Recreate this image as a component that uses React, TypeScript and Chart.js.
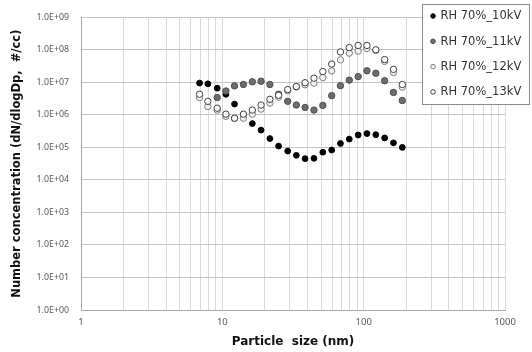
import React, { useEffect, useRef } from 'react';
import { Chart, registerables } from 'chart.js';

Chart.register(...registerables);

// Particle sizes (nm)
const sizes = [6.9, 7.9, 9.2, 10.6, 12.2, 14.1, 16.3, 18.8, 21.7, 25.0, 29.0, 33.4, 38.5, 44.5, 51.4, 59.4, 68.5, 79.1, 91.4, 105.5, 121.9, 140.7, 162.5, 187.7];

const rh10kV = [9.5e6, 9.0e6, 6.6e6, 4.3e6, 2.15e6, 1.0e6, 5.4e5, 3.4e5, 1.87e5, 1.1e5, 7.7e4, 5.7e4, 4.5e4, 4.6e4, 7.1e4, 8.3e4, 1.32e5, 1.8e5, 2.4e5, 2.66e5, 2.46e5, 1.95e5, 1.38e5, 1.0e5];
const rh11kV = [null, null, 3.4e6, 5.4e6, 7.8e6, 8.6e6, 1.04e7, 1.08e7, 8.6e6, 4.3e6, 2.6e6, 2.0e6, 1.69e6, 1.4e6, 1.95e6, 3.9e6, 7.9e6, 1.17e7, 1.5e7, 2.26e7, 1.9e7, 1.12e7, 4.9e6, 2.76e6];
const rh12kV = [3.4e6, 1.8e6, 1.4e6, 9.0e5, 7.7e5, 7.9e5, 1.05e6, 1.5e6, 2.3e6, 3.5e6, 5.5e6, 7.2e6, 8.4e6, 9.4e6, 1.4e7, 2.24e7, 4.9e7, 7.9e7, 9.1e7, 1.1e8, 9.6e7, 4.4e7, 2.0e7, 7.1e6];
const rh13kV = [4.3e6, 2.6e6, 1.6e6, 1.05e6, 7.9e5, 1.05e6, 1.4e6, 2.0e6, 3.0e6, 4.0e6, 6.0e6, 7.4e6, 9.7e6, 1.34e7, 2.14e7, 3.65e7, 8.6e7, 1.17e8, 1.36e8, 1.36e8, 1.0e8, 5.0e7, 2.5e7, 8.6e6];

const seriesLabels = ['RH 70%_10kV', 'RH 70%_11kV', 'RH 70%_12kV', 'RH 70%_13kV'];

const xMajorTicks = [1, 10, 100, 1000];
const yDecadeTicks = [1, 1e1, 1e2, 1e3, 1e4, 1e5, 1e6, 1e7, 1e8, 1e9];

const toPoints = (vals: (number | null)[]) =>
  sizes.map((x, i) => ({ x, y: vals[i] })).filter((p) => p.y != null) as { x: number; y: number }[];

const boxLegend = {
  id: 'boxLegend',
  afterDraw(chart: any) {
    const ctx = chart.ctx as CanvasRenderingContext2D;
    const x0 = 422.5, y0 = 4.5, w = 107, h = 100;
    ctx.save();
    ctx.fillStyle = '#ffffff';
    ctx.fillRect(x0, y0, w, h);
    ctx.strokeStyle = '#8c8c8c';
    ctx.lineWidth = 1;
    ctx.strokeRect(x0, y0, w, h);
    chart.data.datasets.forEach((ds: any, i: number) => {
      const cy = 16 + i * 25.3;
      ctx.beginPath();
      ctx.arc(433, cy, 2.3, 0, Math.PI * 2);
      ctx.fillStyle = ds.backgroundColor;
      ctx.fill();
      ctx.strokeStyle = ds.borderColor;
      ctx.lineWidth = 1;
      ctx.stroke();
      ctx.fillStyle = '#333333';
      ctx.font = '11.5px "DejaVu Sans"';
      ctx.textBaseline = 'middle';
      ctx.textAlign = 'left';
      ctx.fillText(ds.label, 440.5, cy + 0.5);
    });
    ctx.restore();
  },
};

export default function App() {
  const ref = useRef<HTMLCanvasElement>(null);

  useEffect(() => {
    if (!ref.current) return;
    const styles = [
      { bg: '#000000', border: '#000000', r: 2.9, order: 4 },
      { bg: '#6d6d6d', border: '#4d4d4d', r: 3.2, order: 3 },
      { bg: '#f2f2f2', border: '#7f7f7f', r: 3.2, order: 2 },
      { bg: '#ffffff', border: '#3f3f3f', r: 3.2, order: 1 },
    ];
    const data = [rh10kV, rh11kV, rh12kV, rh13kV];
    const chart = new Chart(ref.current, {
      type: 'scatter',
      data: {
        datasets: data.map((vals, i) => ({
          label: seriesLabels[i],
          data: toPoints(vals),
          backgroundColor: styles[i].bg,
          borderColor: styles[i].border,
          borderWidth: 1,
          pointRadius: styles[i].r,
          pointHoverRadius: styles[i].r,
          order: styles[i].order,
        })),
      },
      options: {
        responsive: false,
        animation: false,
        layout: { padding: { top: 14, right: 27, left: 0, bottom: 0 } },
        plugins: {
          legend: { display: false },
          tooltip: { enabled: false },
        },
        scales: {
          x: {
            type: 'logarithmic',
            min: 1,
            max: 1000,
            afterBuildTicks: (scale: any) => {
              const t: { value: number }[] = [];
              xMajorTicks.forEach((d, k) => {
                if (k === xMajorTicks.length - 1) {
                  t.push({ value: d });
                } else {
                  for (let m = 1; m <= 9; m++) t.push({ value: d * m });
                }
              });
              scale.ticks = t;
            },
            afterFit: (scale: any) => {
              scale.height = 42;
            },
            ticks: {
              autoSkip: false,
              maxRotation: 0,
              minRotation: 0,
              padding: 7,
              color: '#595959',
              font: { family: '"Noto Sans"', size: 9.5 },
              callback: (v: any) => (xMajorTicks.includes(Number(v)) ? String(v) : ''),
            },
            grid: { color: '#d9d9d9', drawTicks: false },
            border: { display: true, color: '#a6a6a6' },
            title: {
              display: true,
              text: 'Particle  size (nm)',
              color: '#111111',
              font: { family: '"DejaVu Sans"', size: 12, weight: 'bold' },
              padding: { top: 0, bottom: 3 },
            },
          },
          y: {
            type: 'logarithmic',
            min: 1,
            max: 1e9,
            afterBuildTicks: (scale: any) => {
              scale.ticks = yDecadeTicks.map((v) => ({ value: v }));
            },
            afterFit: (scale: any) => {
              scale.width = 81;
            },
            ticks: {
              autoSkip: false,
              padding: 12,
              color: '#595959',
              font: { family: '"Noto Sans"', size: 8.8 },
              callback: (v: any) => {
                const e = Math.round(Math.log10(Number(v)));
                return '1.0E+' + String(e).padStart(2, '0');
              },
            },
            grid: { color: '#c4c4c4', drawTicks: false },
            border: { display: true, color: '#a6a6a6' },
            title: {
              display: true,
              text: 'Number concentration (dN/dlogDp,  #/cc)',
              color: '#111111',
              font: { family: '"DejaVu Sans"', size: 11.5, weight: 'bold' },
              padding: { top: 10, bottom: 0 },
            },
          },
        },
      } as any,
      plugins: [boxLegend],
    });
    return () => chart.destroy();
  }, []);

  return (
    <div style={{ position: 'fixed', left: 0, top: 0, width: 532, height: 352, background: '#fff' }}>
      <canvas ref={ref} width={532} height={352} />
    </div>
  );
}
